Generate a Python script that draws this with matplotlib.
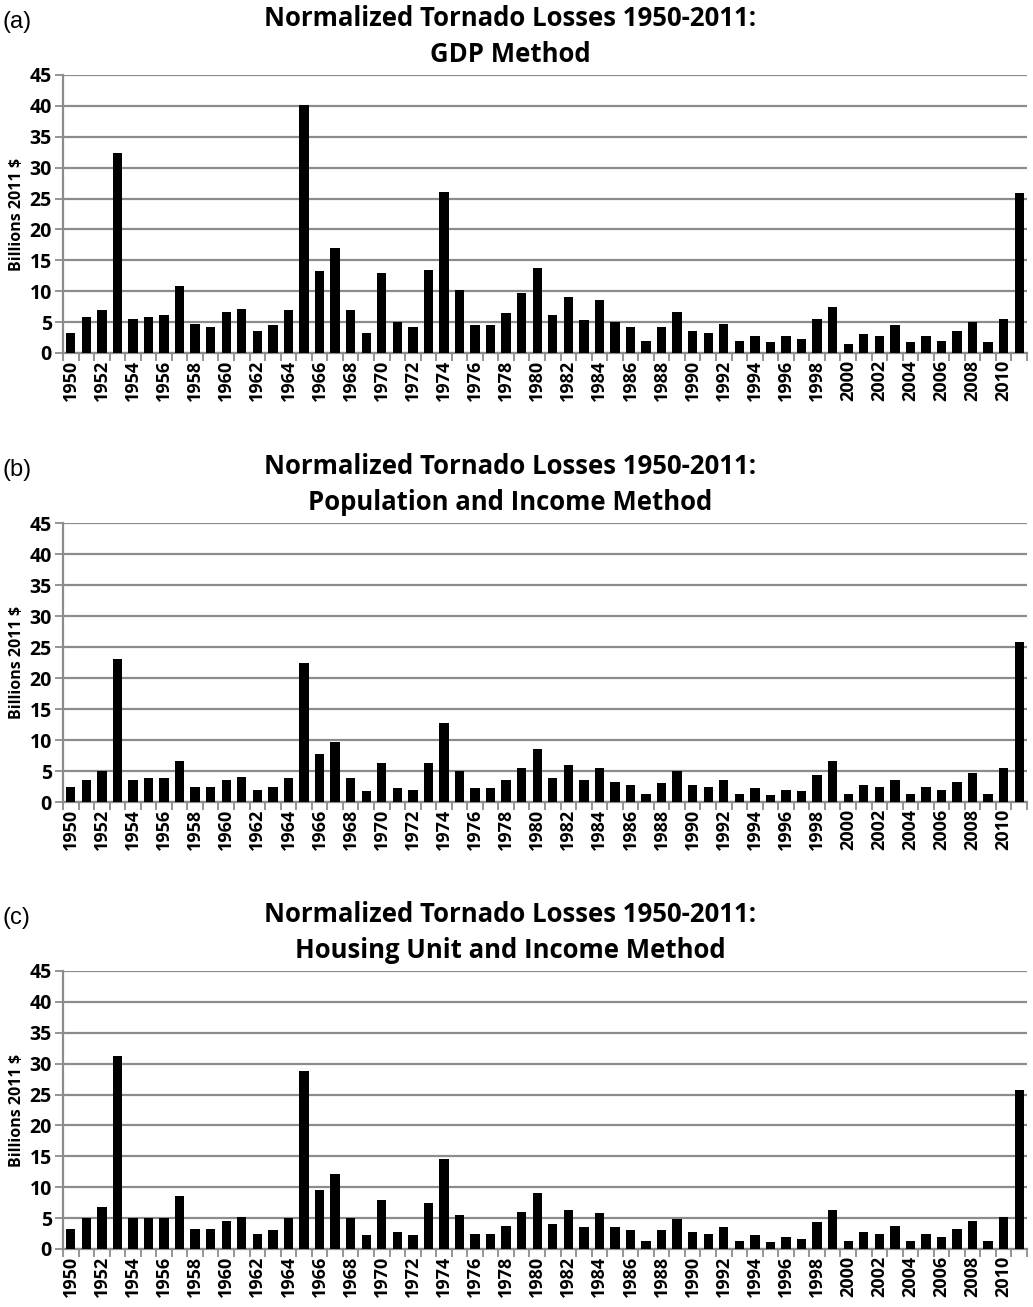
import matplotlib.pyplot as plt
import numpy as np

years = list(range(1950, 2012))
y_ticks = list(range(0, 46, 5))

gdp = [3.3, 5.8, 6.9, 32.4, 5.5, 5.8, 6.1, 10.8, 4.7, 4.2,
       6.6, 7.2, 3.6, 4.5, 6.9, 40.1, 13.3, 17.0, 6.9, 3.3,
       12.9, 5.0, 4.2, 13.5, 26.1, 10.2, 4.5, 4.5, 6.4, 9.7,
       13.7, 6.1, 9.1, 5.3, 8.6, 5.0, 4.2, 2.0, 4.2, 6.6,
       3.6, 3.3, 4.7, 2.0, 2.8, 1.7, 2.8, 2.3, 5.5, 7.4,
       1.5, 3.1, 2.8, 4.5, 1.7, 2.8, 2.0, 3.6, 5.0, 1.7,
       5.5, 25.9]

pop_income = [2.5, 3.6, 5.0, 23.1, 3.6, 3.9, 3.9, 6.6, 2.5, 2.5,
              3.6, 4.1, 1.9, 2.5, 3.9, 22.5, 7.7, 9.6, 3.9, 1.7,
              6.3, 2.2, 1.9, 6.3, 12.7, 5.0, 2.2, 2.2, 3.6, 5.5,
              8.5, 3.9, 6.0, 3.6, 5.5, 3.3, 2.7, 1.3, 3.0, 5.0,
              2.7, 2.5, 3.6, 1.3, 2.2, 1.1, 1.9, 1.7, 4.4, 6.6,
              1.3, 2.7, 2.5, 3.6, 1.3, 2.5, 1.9, 3.3, 4.7, 1.3,
              5.5, 25.8]

housing_income = [3.3, 5.0, 6.8, 31.3, 5.0, 5.0, 5.0, 8.5, 3.3, 3.3,
                  4.6, 5.2, 2.5, 3.0, 5.0, 28.8, 9.6, 12.1, 5.0, 2.2,
                  8.0, 2.7, 2.2, 7.4, 14.5, 5.5, 2.5, 2.5, 3.8, 6.0,
                  9.1, 4.1, 6.3, 3.6, 5.8, 3.6, 3.0, 1.3, 3.0, 4.9,
                  2.7, 2.5, 3.6, 1.3, 2.2, 1.1, 1.9, 1.6, 4.4, 6.3,
                  1.3, 2.7, 2.5, 3.8, 1.3, 2.5, 1.9, 3.3, 4.6, 1.3,
                  5.2, 25.8]

panel_letters = ['(a)', '(b)', '(c)']
subtitles = ['GDP Method', 'Population and Income Method', 'Housing Unit and Income Method']
series = [gdp, pop_income, housing_income]

W, H = 1033, 1307
fig = plt.figure(figsize=(W / 100, H / 100), dpi=100)

# axes boxes in pixels: (left, top, right, bottom)
boxes = [(63, 75, 1027, 353), (63, 523, 1027, 802), (63, 971, 1027, 1249)]

grid_col = '#8c8c8c'
bold_font = 'Open Sans'

for k in range(3):
    l, t, r, b = boxes[k]
    ax = fig.add_axes([l / W, 1 - b / H, (r - l) / W, (b - t) / H])
    x = np.arange(len(years))
    ax.bar(x, series[k], width=0.6, color='black', zorder=3)

    ax.set_xlim(-0.5, len(years) - 0.5)
    ax.set_ylim(0, 45)
    ax.set_yticks(y_ticks, [str(v) for v in y_ticks], fontsize=14, fontweight='bold', family=bold_font)
    ax.yaxis.grid(True, color=grid_col, linewidth=1.6, zorder=0)

    for s in ['top', 'right']:
        ax.spines[s].set_visible(False)
    ax.spines['left'].set_color(grid_col)
    ax.spines['bottom'].set_color(grid_col)
    ax.spines['left'].set_linewidth(1.6)
    ax.spines['bottom'].set_linewidth(1.6)

    # category boundary ticks, labels every other year
    ax.set_xticks(np.arange(-0.5, len(years), 1.0))
    ax.set_xticklabels([])
    ax.set_xticks(x[::2], [str(y) for y in years[::2]], minor=True, rotation=90,
                  fontsize=13, fontweight='bold', family=bold_font)
    ax.tick_params(axis='x', which='major', length=6, width=1.3, color=grid_col)
    ax.tick_params(axis='x', which='minor', length=0, pad=5)
    ax.tick_params(axis='y', length=6, width=1.3, color=grid_col, pad=2)

    ax.set_ylabel('Billions 2011 $', fontsize=11.5, fontweight='bold', family=bold_font, labelpad=3)

    # titles
    fig.text(510 / W, 1 - (t - 56) / H, 'Normalized Tornado Losses 1950-2011:', ha='center', va='center',
             fontsize=18.5, fontweight='bold', family=bold_font)
    fig.text(510 / W, 1 - (t - 21) / H, subtitles[k], ha='center', va='center',
             fontsize=18.5, fontweight='bold', family=bold_font)
    fig.text(3 / W, 1 - (t - 53) / H, panel_letters[k], ha='left', va='center',
             fontsize=17, family='Liberation Sans')

fig.savefig('out.png', dpi=100)
